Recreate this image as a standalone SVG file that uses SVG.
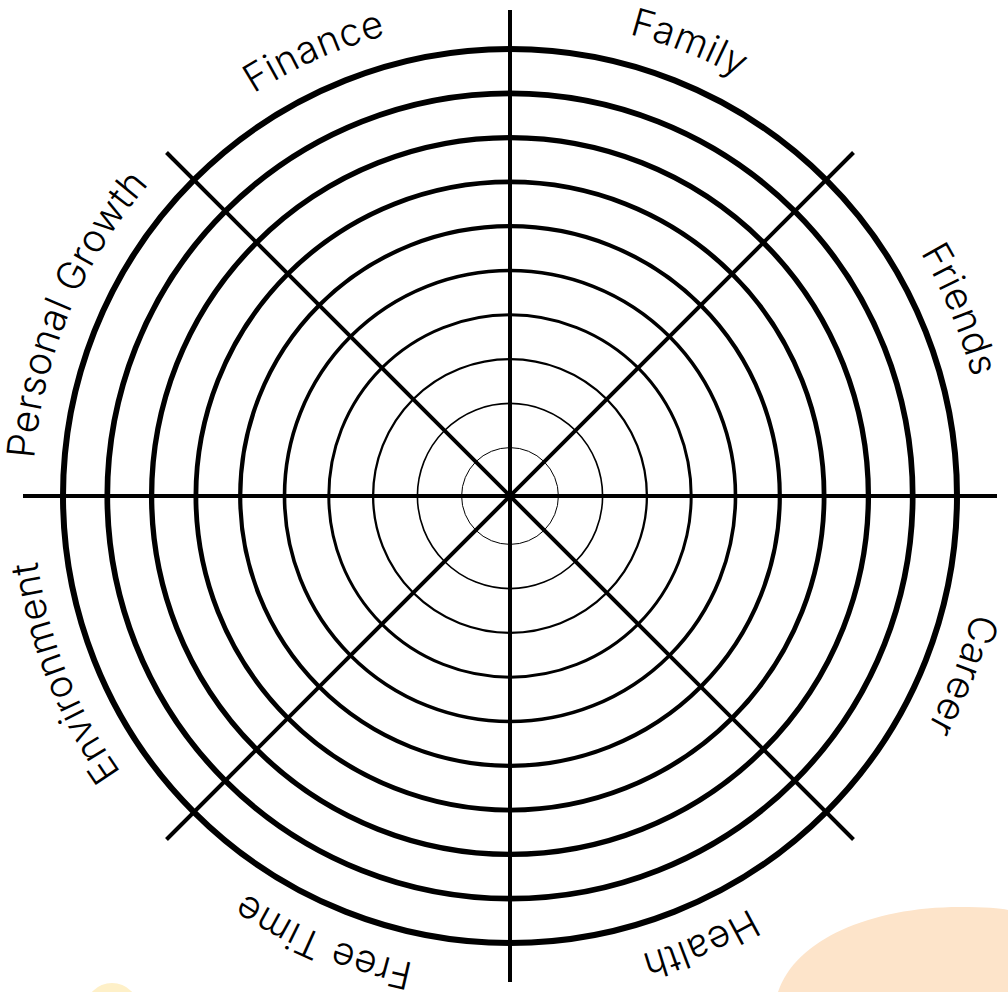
<svg xmlns="http://www.w3.org/2000/svg" xmlns:xlink="http://www.w3.org/1999/xlink" width="1008" height="992" viewBox="0 0 1008 992">
  <style>
    .ring { fill: none; stroke: #000; }
    .spoke { stroke: #000; stroke-width: 4; stroke-linecap: butt; }
    .label { font-family: Inter, "Liberation Sans", sans-serif; font-weight: 300; font-size: 38.5px; fill: #000; letter-spacing: 0.5px; }
  </style>
  <defs>
    <path id="labelPath" d="M 510 19 A 477 477 0 1 1 510 973 A 477 477 0 1 1 510 19"/>
  </defs>
  <rect width="1008" height="992" fill="#fff"/>
  <g id="decor">
    <path d="M 778 992 C 795 940, 870 907, 960 907 C 985 907, 1000 908, 1008 910 L 1008 992 Z" fill="#FDE4CA"/>
    <circle cx="112" cy="1010" r="27" fill="#FEF0C8"/>
  </g>
  <g id="rings">
    <circle class="ring" cx="510" cy="496" r="447" stroke-width="6"/>
    <circle class="ring" cx="510" cy="496" r="402.7" stroke-width="5.7"/>
    <circle class="ring" cx="510" cy="496" r="358.4" stroke-width="5.3"/>
    <circle class="ring" cx="510" cy="496" r="314.1" stroke-width="4.8"/>
    <circle class="ring" cx="510" cy="496" r="269.8" stroke-width="4.2"/>
    <circle class="ring" cx="510" cy="496" r="225.5" stroke-width="3.6"/>
    <circle class="ring" cx="510" cy="496" r="181.2" stroke-width="3"/>
    <circle class="ring" cx="510" cy="496" r="136.9" stroke-width="2.3"/>
    <circle class="ring" cx="510" cy="496" r="92.6" stroke-width="1.6"/>
    <circle class="ring" cx="510" cy="496" r="48.4" stroke-width="1"/>
  </g>
  <g id="connectors">
    <line class="spoke" x1="510" y1="10" x2="510" y2="982"/>
    <line class="spoke" x1="23" y1="496" x2="997" y2="496"/>
    <line class="spoke" x1="166.5" y1="152.5" x2="853.5" y2="839.5"/>
    <line class="spoke" x1="853.5" y1="152.5" x2="166.5" y2="839.5"/>
  </g>
  <g id="label-family"><text class="label" text-anchor="middle"><textPath xlink:href="#labelPath" href="#labelPath" startOffset="6.0%">Family</textPath></text></g>
  <g id="label-friends"><text class="label" text-anchor="middle"><textPath xlink:href="#labelPath" href="#labelPath" startOffset="18.75%">Friends</textPath></text></g>
  <g id="label-career"><text class="label" text-anchor="middle"><textPath xlink:href="#labelPath" href="#labelPath" startOffset="31.0%">Career</textPath></text></g>
  <g id="label-health"><text class="label" text-anchor="middle"><textPath xlink:href="#labelPath" href="#labelPath" startOffset="43.6%">Health</textPath></text></g>
  <g id="label-free-time"><text class="label" text-anchor="middle"><textPath xlink:href="#labelPath" href="#labelPath" startOffset="56.3%">Free Time</textPath></text></g>
  <g id="label-environment"><text class="label" text-anchor="middle"><textPath xlink:href="#labelPath" href="#labelPath" startOffset="69.0%">Environment</textPath></text></g>
  <g id="label-personal-growth"><text class="label" text-anchor="middle"><textPath xlink:href="#labelPath" href="#labelPath" startOffset="81.3%">Personal Growth</textPath></text></g>
  <g id="label-finance"><text class="label" text-anchor="middle"><textPath xlink:href="#labelPath" href="#labelPath" startOffset="93.4%">Finance</textPath></text></g>
</svg>
